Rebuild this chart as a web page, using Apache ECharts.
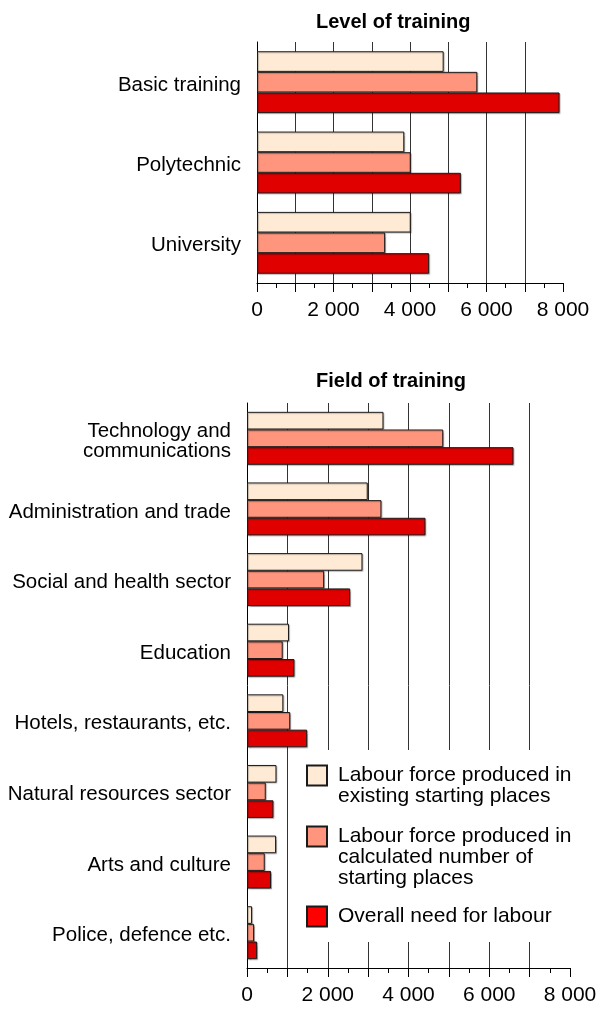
<!DOCTYPE html>
<html>
<head>
<meta charset="utf-8">
<script src="https://cdn.jsdelivr.net/npm/echarts@6/dist/echarts.min.js"></script>
<style>
  html, body { margin: 0; padding: 0; background: #fff; }
  #chart { width: 608px; height: 1009px; }
</style>
</head>
<body>
<div id="chart"></div>
<script>
const levelCats = ['Basic training', 'Polytechnic', 'University']
const levelExisting = [4880, 3850, 4020]
const levelCalculated = [5760, 4020, 3350]
const levelNeed = [7910, 5330, 4500]

const fieldCats = [
  'Technology and\ncommunications',
  'Administration and trade',
  'Social and health sector',
  'Education',
  'Hotels, restaurants, etc.',
  'Natural resources sector',
  'Arts and culture',
  'Police, defence etc.'
]
const fieldExisting = [3380, 2990, 2860, 1040, 900, 730, 720, 125]
const fieldCalculated = [4860, 3330, 1910, 885, 1070, 465, 440, 175]
const fieldNeed = [6600, 4420, 2555, 1175, 1490, 655, 595, 250]

const seriesNames = [
  'Labour force produced in\nexisting starting places',
  'Labour force produced in\ncalculated number of\nstarting places',
  'Overall need for labour'
]
const colors = ['#ffebd5', '#ff957d', '#e00000']

const FONT = '"Liberation Sans", Arial, sans-serif'

function fmt(v) {
  if (v % 2000 !== 0) return ''
  return String(v).replace(/\B(?=(\d{3})+(?!\d))/g, ' ')
}

function valueAxis(gridIndex) {
  return {
    type: 'value',
    gridIndex,
    min: 0,
    max: 8000,
    interval: 1000,
    axisLine: { show: true, lineStyle: { color: '#000', width: 1 } },
    axisTick: { show: true, length: 9, lineStyle: { color: '#000' } },
    minorTick: { show: true, splitNumber: 2, length: 5, lineStyle: { color: '#000' } },
    splitLine: {
      show: true,
      showMinLine: false,
      showMaxLine: false,
      lineStyle: { color: '#333', width: 1 }
    },
    axisLabel: {
      formatter: fmt,
      fontSize: 21,
      fontFamily: FONT,
      color: '#000',
      margin: 17,
      hideOverlap: false
    }
  }
}

function catAxis(gridIndex, data) {
  return {
    type: 'category',
    gridIndex,
    data,
    inverse: true,
    axisLine: { show: true, lineStyle: { color: '#000', width: 1 } },
    axisTick: { show: false },
    splitLine: { show: false },
    axisLabel: {
      fontSize: 20.5,
      lineHeight: 20,
      fontFamily: FONT,
      color: '#000',
      margin: 16,
      interval: 0,
      // rich mode so the top padding nudges the text down
      padding: [6, 0, 0, 0],
      rich: { c: {} }
    }
  }
}

function bars(gridIndex, values, i, gap) {
  return {
    name: seriesNames[i],
    type: 'bar',
    xAxisIndex: gridIndex,
    yAxisIndex: gridIndex,
    data: values,
    barGap: '0%',
    barCategoryGap: gap,
    itemStyle: {
      color: colors[i],
      borderColor: '#1a1a1a',
      borderWidth: 1,
      shadowColor: 'rgba(0,0,0,0.25)',
      shadowOffsetX: 1,
      shadowOffsetY: 1,
      shadowBlur: 1
    }
  }
}

const chart = echarts.init(document.getElementById('chart'), null, { renderer: 'canvas' })

const option = {
  animation: false,
  backgroundColor: '#fff',
  textStyle: { fontFamily: FONT },
  title: [
    {
      text: 'Level of training',
      left: 311,
      top: 7,
      textStyle: { fontSize: 20, fontWeight: 'bold', color: '#000', fontFamily: FONT }
    },
    {
      text: 'Field of training',
      left: 311,
      top: 366,
      textStyle: { fontSize: 20, fontWeight: 'bold', color: '#000', fontFamily: FONT }
    }
  ],
  // white box behind the legend that breaks the grid lines
  graphic: [{
    type: 'rect',
    z: 3,
    shape: { x: 300, y: 750, width: 280, height: 192 },
    style: { fill: '#fff' },
    silent: true
  }],
  legend: {
    orient: 'vertical',
    left: 306,
    top: 744,
    padding: 0,
    icon: 'rect',
    itemWidth: 20,
    itemHeight: 20,
    itemGap: -23,
    selectedMode: false,
    textStyle: {
      fontSize: 21,
      lineHeight: 21,
      color: '#000',
      fontFamily: FONT,
      rich: { t: {} }
    },
    data: [
      { name: seriesNames[0], textStyle: { padding: [21, 0, 0, 6] } },
      { name: seriesNames[1], textStyle: { padding: [42, 0, 0, 6] } },
      { name: seriesNames[2], textStyle: { padding: [40, 0, 40, 6] }, itemStyle: { color: '#ff0000' } }
    ]
  },
  grid: [
    { left: 257, right: 45, top: 42, height: 241, outerBoundsMode: 'none' },
    { left: 247, right: 38, top: 403, height: 565, outerBoundsMode: 'none' }
  ],
  xAxis: [valueAxis(0), valueAxis(1)],
  yAxis: [catAxis(0, levelCats), catAxis(1, fieldCats)],
  series: [
    bars(0, levelExisting, 0, '23%'),
    bars(0, levelCalculated, 1, '23%'),
    bars(0, levelNeed, 2, '23%'),
    bars(1, fieldExisting, 0, '25%'),
    bars(1, fieldCalculated, 1, '25%'),
    bars(1, fieldNeed, 2, '25%')
  ]
}

chart.setOption(option)
</script>
</body>
</html>
